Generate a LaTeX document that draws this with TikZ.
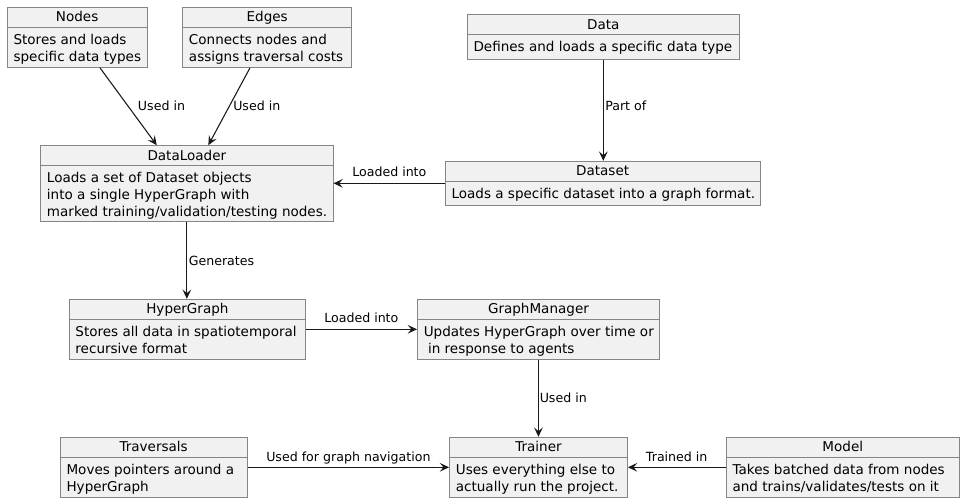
\documentclass[tikz,border=0pt]{standalone}
\usepackage{fontspec}
\setmainfont{DejaVu Sans}
\usetikzlibrary{arrows.meta,calc,fit}
\definecolor{objfill}{HTML}{F1F1F1}
\definecolor{objline}{HTML}{858585}
\definecolor{arrowc}{HTML}{181818}
\tikzset{
  objbox/.style={draw=objline, fill=objfill, line width=0.75pt, inner sep=0pt, rectangle},
  divline/.style={draw=objline, line width=0.75pt},
  titletext/.style={inner sep=0pt, anchor=base, font=\fontsize{10.15pt}{12.5pt}\selectfont},
  bodytext/.style={inner sep=0pt, anchor=north west, align=left, font=\fontsize{10.15pt}{12.5pt}\selectfont},
  conn/.style={draw=arrowc, line width=0.8pt, -{Stealth[length=7pt,width=6.5pt,inset=2.8pt]}},
  lbl/.style={inner sep=0pt, anchor=base west, font=\fontsize{9.45pt}{11.5pt}\selectfont}
}
\newcommand{\umlobj}[8]{%
  \node[objbox, fit={(#2,#3) (#4,#5)}] (#1) {};
  \draw[divline] (#2,#6) -- (#4,#6);
  \node[titletext] (#1-title) at ({(#2+#4)/2},{#3+14.4}) {#7};
  \node[bodytext] (#1-body) at ({#2+6},{#6+5}) {\rule{0pt}{9pt}#8};
}
\begin{document}
\begin{tikzpicture}[x=0.75pt,y=-0.75pt]
\useasboundingbox (0,0) rectangle (964,503);
\umlobj{nodes}{7.3}{7.3}{147}{67.3}{27.3}{Nodes}{Stores and loads\\specific data types}
\umlobj{edges}{182.7}{7.3}{351.7}{67.3}{27.3}{Edges}{Connects nodes and\\assigns traversal costs}
\umlobj{data}{467.3}{15}{739.3}{59.3}{34.7}{Data}{Defines and loads a specific data type}
\umlobj{dataloader}{40.7}{145.7}{333}{221.7}{165.7}{DataLoader}{Loads a set of Dataset objects\\into a single HyperGraph with\\marked training/validation/testing nodes.}
\umlobj{dataset}{445.3}{161.3}{760}{205.3}{181}{Dataset}{Loads a specific dataset into a graph format.}
\umlobj{hypergraph}{69.2}{299.3}{305.6}{359.3}{319.3}{HyperGraph}{Stores all data in spatiotemporal\\recursive format}
\umlobj{graphmanager}{417.5}{299.3}{659.4}{359.3}{319.3}{GraphManager}{Updates HyperGraph over time or\\\ in response to agents}
\umlobj{traversals}{60.3}{437.3}{247}{497.3}{457.3}{Traversals}{Moves pointers around a\\HyperGraph}
\umlobj{trainer}{449.6}{437.3}{627.4}{497.3}{457.3}{Trainer}{Uses everything else to\\actually run the project.}
\umlobj{model}{726.3}{437.3}{959.3}{497.3}{457.3}{Model}{Takes batched data from nodes\\and trains/validates/tests on it}

\draw[conn] ($(nodes.south)+(22.8,0)$) -- ($(dataloader.north)+(-30.1,0)$);
\draw[conn] ($(edges.south)+(-17.2,0)$) -- ($(dataloader.north)+(21.5,0)$);
\draw[conn] (data.south) -- (data.south |- dataset.north);
\draw[conn] (dataset.west) -- (dataset.west -| dataloader.east);
\draw[conn] (dataloader.south) -- (dataloader.south |- hypergraph.north);
\draw[conn] (hypergraph.east) -- (hypergraph.east -| graphmanager.west);
\draw[conn] (graphmanager.south) -- (graphmanager.south |- trainer.north);
\draw[conn] (traversals.east) -- (traversals.east -| trainer.west);
\draw[conn] (model.west) -- (model.west -| trainer.east);

\node[lbl] (l1) at (137.7,111) {Used in};
\node[lbl] (l2) at (233,111) {Used in};
\node[lbl] (l3) at (605,111) {Part of};
\node[lbl] (l4) at (352,176.7) {Loaded into};
\node[lbl] (l5) at (188.5,265) {Generates};
\node[lbl] (l6) at (324,322.7) {Loaded into};
\node[lbl] (l7) at (539.5,402.7) {Used in};
\node[lbl] (l8) at (266,461) {Used for graph navigation};
\node[lbl] (l9) at (645.7,461.5) {Trained in};
\end{tikzpicture}
\end{document}
